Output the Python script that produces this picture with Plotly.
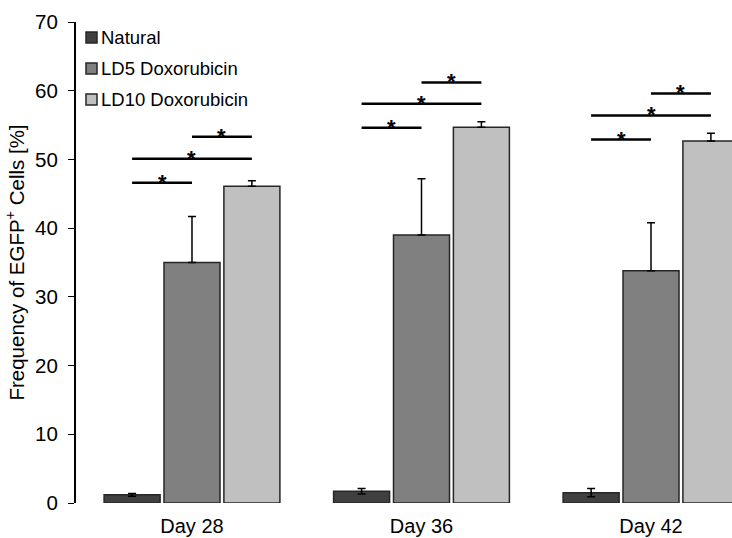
import plotly.graph_objects as go

# ---- data ----
days = ["Day 28", "Day 36", "Day 42"]
series_names = ["Natural", "LD5 Doxorubicin", "LD10 Doxorubicin"]
natural = [1.2, 1.7, 1.5]
ld5 = [35.0, 39.0, 33.8]
ld10 = [46.1, 54.7, 52.7]
natural_err = [0.2, 0.4, 0.6]
ld5_err = [6.7, 8.2, 7.0]
ld10_err = [0.8, 0.8, 1.1]
# significance bracket heights per day: (Natural-LD5, Natural-LD10, LD5-LD10)
sig_nat_ld5 = [46.6, 54.6, 52.9]
sig_nat_ld10 = [50.1, 58.1, 56.4]
sig_ld5_ld10 = [53.3, 61.2, 59.6]
y_ticks = [0, 10, 20, 30, 40, 50, 60, 70]

colors = ["#404040", "#808080", "#c0c0c0"]
outline = "#262626"
FONT = "Liberation Sans, Arial, sans-serif"

x_pos = list(range(len(days)))
values = [natural, ld5, ld10]
errs = [natural_err, ld5_err, ld10_err]

fig = go.Figure()
for i, (name, vals, err) in enumerate(zip(series_names, values, errs)):
    minus = err if i == 0 else [0] * len(err)
    fig.add_trace(go.Bar(
        x=x_pos, y=vals, name=name,
        marker=dict(color=colors[i], line=dict(color=outline, width=1.5)),
        error_y=dict(type="data", array=err, arrayminus=minus, visible=True,
                     color="black", thickness=1.5, width=4),
        showlegend=False,
    ))

bargap = 0.217
slot = (1 - bargap) / 3
fig.update_layout(barmode="group", bargap=bargap, bargroupgap=0.065)

# significance brackets
shapes = []
annotations = []
for d in x_pos:
    c_nat, c_ld5, c_ld10 = d - slot, d, d + slot
    for (x0, x1, yv) in [(c_nat, c_ld5, sig_nat_ld5[d]),
                         (c_nat, c_ld10, sig_nat_ld10[d]),
                         (c_ld5, c_ld10, sig_ld5_ld10[d])]:
        shapes.append(dict(type="line", xref="x", yref="y", x0=x0, x1=x1,
                           y0=yv, y1=yv, line=dict(color="black", width=2.5)))
        annotations.append(dict(x=(x0 + x1) / 2, y=yv, xref="x", yref="y",
                                text="<b>*</b>", showarrow=False, yanchor="top",
                                yshift=15, font=dict(family=FONT, size=22, color="black")))

# manual legend (swatch + label)
plot_l, plot_r, plot_t, plot_b = 76, 732, 22, 503
pw, ph = plot_r - plot_l, plot_b - plot_t
def px(xp):
    return (xp - plot_l) / pw
def py(yp):
    return (plot_b - yp) / ph
leg_centers = [37.5, 68.5, 99.5]
for name, col, yc in zip(series_names, colors, leg_centers):
    shapes.append(dict(type="rect", xref="paper", yref="paper",
                       x0=px(86), x1=px(97), y0=py(yc + 5.5), y1=py(yc - 5.5),
                       fillcolor=col, line=dict(color=outline, width=1.5)))
    annotations.append(dict(x=px(99), y=py(yc), xref="paper", yref="paper",
                            text=name, showarrow=False, xanchor="left", yanchor="middle",
                            font=dict(family=FONT, size=18.5, color="black")))

fig.update_layout(
    width=732, height=538,
    margin=dict(l=plot_l, r=0, t=plot_t, b=538 - plot_b),
    paper_bgcolor="white", plot_bgcolor="white",
    font=dict(family=FONT, color="black"),
    shapes=shapes, annotations=annotations,
    xaxis=dict(tickvals=x_pos, ticktext=days, range=[-0.5054, 2.3529],
               showline=False, showgrid=False, zeroline=False, ticks="",
               ticklabelstandoff=9,
               tickfont=dict(family=FONT, size=20, color="black")),
    yaxis=dict(range=[0, 70], tickvals=y_ticks, showgrid=False, zeroline=False,
               showline=True, linecolor="black", linewidth=2,
               ticks="outside", ticklen=6, tickwidth=1, tickcolor="black",
               ticklabelstandoff=6,
               tickfont=dict(family=FONT, size=20.5, color="black"),
               title=dict(text="Frequency of EGFP<sup>+</sup> Cells [%]",
                          font=dict(family=FONT, size=20.5, color="black"),
                          standoff=5)),
)

fig.write_html("out.html")
